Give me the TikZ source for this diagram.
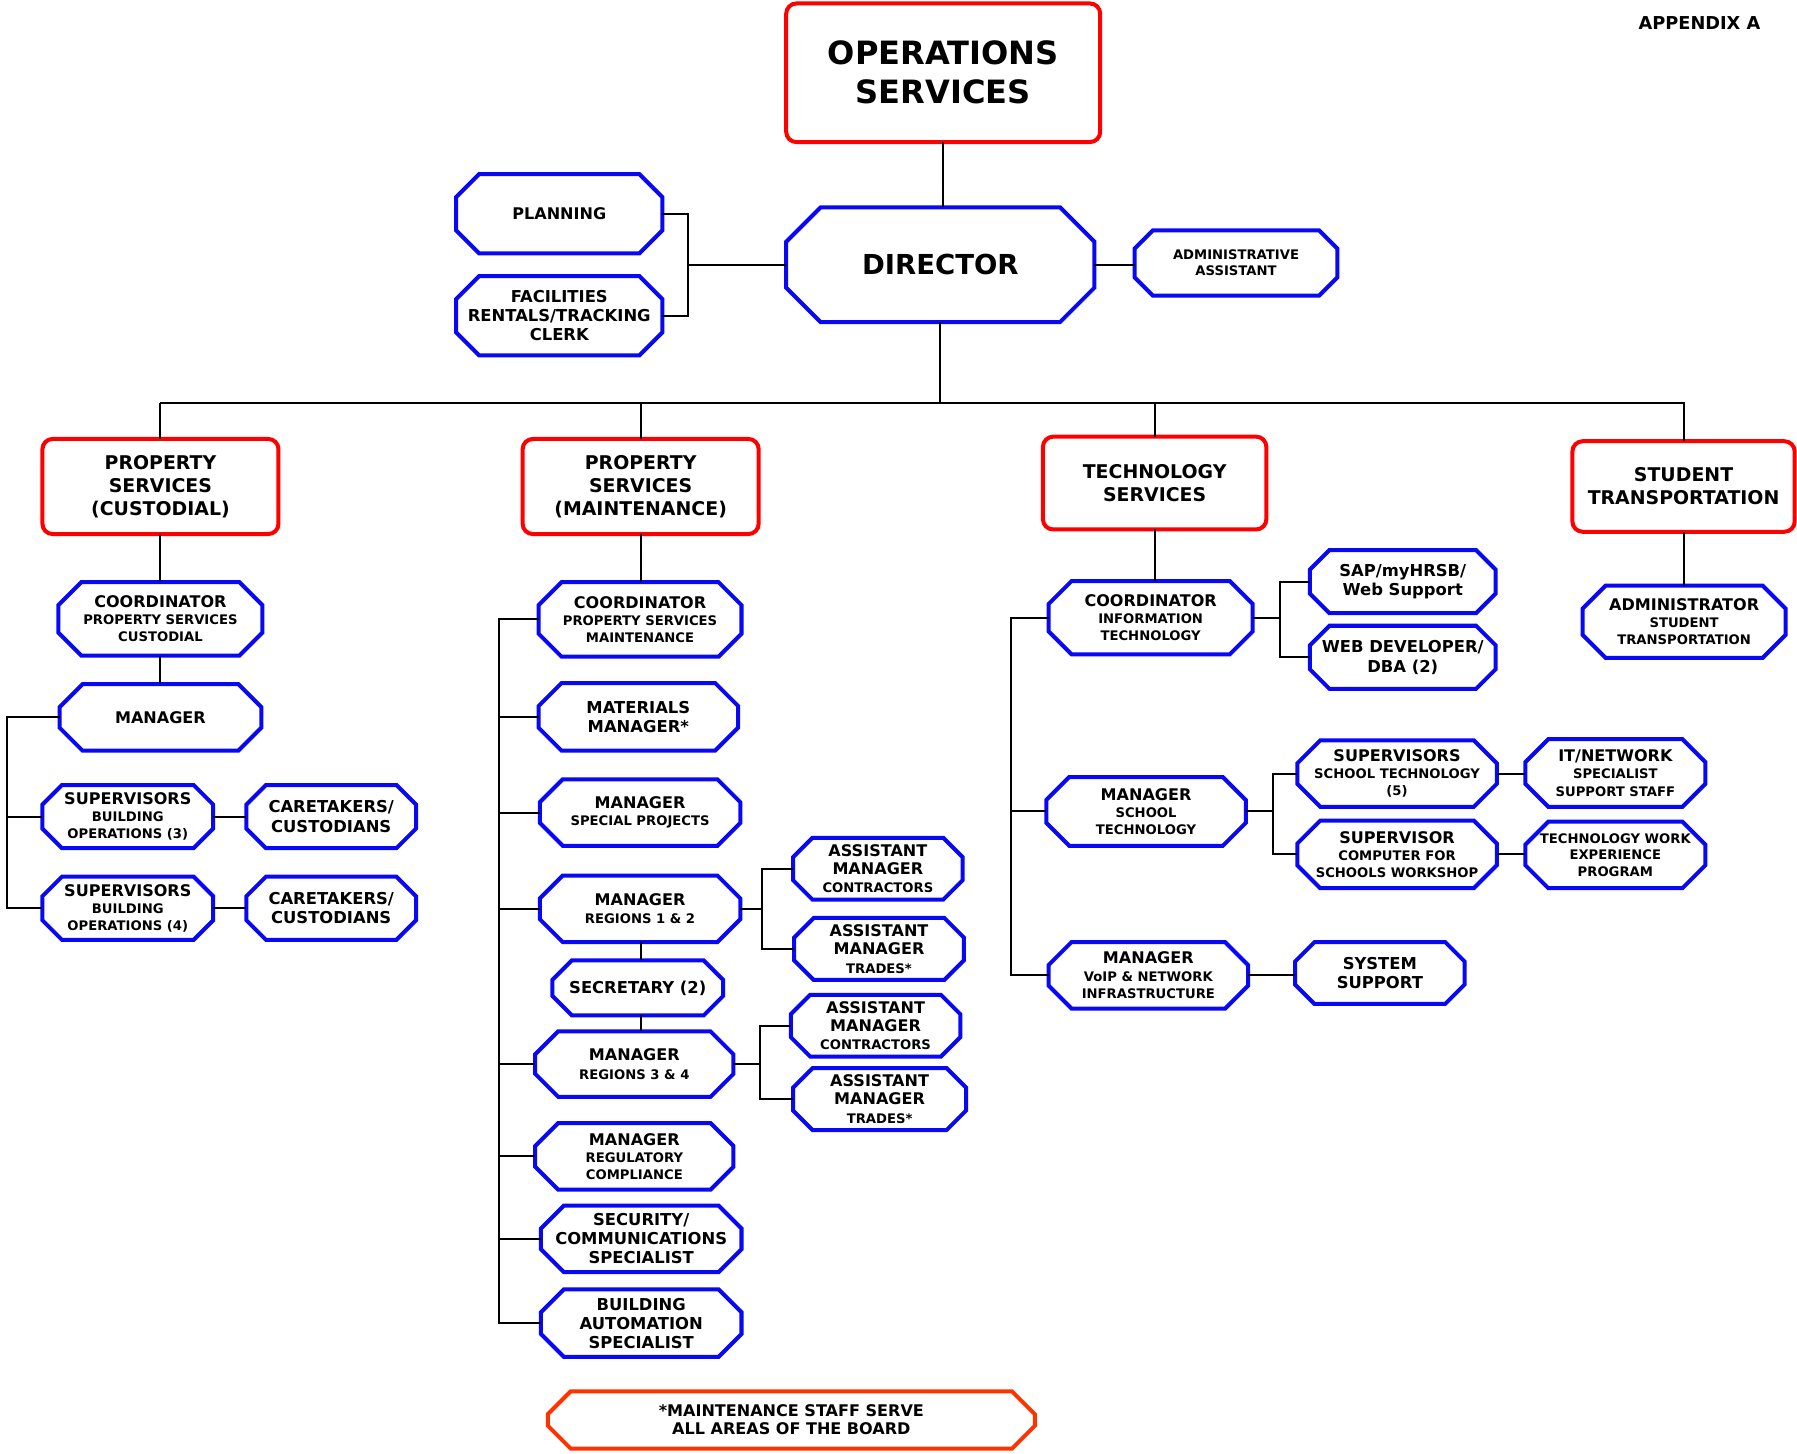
\documentclass[tikz,border=0pt]{standalone}
\usepackage{fontspec}
\setmainfont{DejaVu Sans}
\definecolor{bxblue}{RGB}{8,8,245}
\definecolor{bxred}{RGB}{255,0,0}
\definecolor{fnred}{RGB}{255,51,0}
\newcommand\Fa{\fontsize{14}{15.5}\selectfont}
\newcommand\Fb{\fontsize{11.5}{15.5}\selectfont}
\newcommand\Fc{\fontsize{14.3}{17}\selectfont}
\newcommand\Fd{\fontsize{14}{16}\selectfont}
\newcommand\Fe{\fontsize{11.5}{16}\selectfont}
\newcommand\Fr{\fontsize{16.5}{20}\selectfont}
\newcommand\octcolor{bxblue}
\tikzset{
  txt/.style={inner sep=0pt, outer sep=0pt, align=center, font=\bfseries\fontsize{10}{15.5}\selectfont},
  ls/.style={font=\bfseries\fontsize{10}{#1}\selectfont},
  octo/.style={line width=3.5pt, line join=miter},
  redbox/.style={txt, draw=bxred, line width=3.5pt, rounded corners=9pt},
  conn/.style={draw=black, line width=1.8pt},
}
% #1 node options, #2 name, #3 cx, #4 cy, #5 w, #6 h, #7 chamfer, #8 text
\newcommand\ob[8][]{%
  \node[txt, #1, minimum width=#5pt, minimum height=#6pt] (#2) at (#3,#4) {#8};
  \draw[octo, draw=\octcolor] ([xshift=#7pt]#2.north west) -- ([xshift=-#7pt]#2.north east)
    -- ([yshift=-#7pt]#2.north east) -- ([yshift=#7pt]#2.south east)
    -- ([xshift=-#7pt]#2.south east) -- ([xshift=#7pt]#2.south west)
    -- ([yshift=#7pt]#2.south west) -- ([yshift=-#7pt]#2.north west) -- cycle;
}
% #1 node options, #2 name, #3 cx, #4 cy, #5 w, #6 h, #7 text
\newcommand\rb[7][]{%
  \node[redbox, ls=20, #1, minimum width=#5pt, minimum height=#6pt] (#2) at (#3,#4) {#7};
}
\begin{document}
\begin{tikzpicture}[x=1pt,y=-1pt]
\useasboundingbox (0,0) rectangle (1568,1268);
\fill[white] (0,0) rectangle (1568,1268);

\node[txt, anchor=east, font=\bfseries\fontsize{15.5}{17}\selectfont] (app) at (1536,20) {APPENDIX A};

% top
\rb[ls=34]{ops}{823}{63.5}{274}{121}{\fontsize{28}{34}\selectfont OPERATIONS\\\fontsize{28}{34}\selectfont SERVICES}
\ob{dir}{820.5}{231}{269}{100}{30}{\fontsize{24}{28}\selectfont DIRECTOR}
\ob{plan}{488}{186.5}{180}{69}{20}{\Fa PLANNING}
\ob[ls=16.5]{fac}{488}{275.5}{180}{69}{20}{\Fc FACILITIES\\\Fc RENTALS/TRACKING\\\Fc CLERK}
\ob[ls=14]{adm}{1078.5}{229.5}{177}{57}{16}{\fontsize{11.5}{14}\selectfont ADMINISTRATIVE\\\fontsize{11.5}{14}\selectfont ASSISTANT}

\coordinate (jd) at (600,231);
\draw[conn] (ops.south) -- (ops.south |- dir.north);
\draw[conn] (plan.east) -| (jd) |- (fac.east);
\draw[conn] (jd) -- (dir.west);
\draw[conn] (dir.east) -- (dir.east -| adm.west);

% departments
\rb{psc}{140}{424.5}{206}{83}{\Fr PROPERTY\\\Fr SERVICES\\\Fr (CUSTODIAL)}
\rb{psm}{559}{424.5}{206}{83}{\Fr PROPERTY\\\Fr SERVICES\\\Fr (MAINTENANCE)}
\rb{ts}{1007.5}{421.5}{195}{81}{\Fr TECHNOLOGY\\\Fr SERVICES}
\rb{st}{1469}{424.5}{194}{79}{\Fr STUDENT\\\Fr TRANSPORTATION}

\coordinate (busl) at (140,352);
\coordinate (busr) at (1470,352);
\draw[conn] (dir.south) -- (dir.south |- busl);
\draw[conn] (busl) -- (busr);
\draw[conn] (psc.north |- busl) -- (psc.north);
\draw[conn] (psm.north |- busl) -- (psm.north);
\draw[conn] (ts.north |- busl) -- (ts.north);
\draw[conn] (st.north |- busl) -- (st.north);

% column 1
\ob[ls=15]{cpc}{140}{540}{178}{64}{20}{\Fa COORDINATOR\\\Fb PROPERTY SERVICES\\\Fb CUSTODIAL}
\ob{mg1}{140}{626}{176}{58}{20}{\Fa MANAGER}
\ob[ls=15]{sup3}{111.5}{712.5}{149}{55}{17}{\Fa SUPERVISORS\\\Fb BUILDING\\\Fb OPERATIONS (3)}
\ob[ls=17]{ct1}{289}{712.5}{148}{55}{17}{\Fc CARETAKERS/\\\Fc CUSTODIANS}
\ob[ls=15]{sup4}{111.5}{792.5}{149}{55}{17}{\Fa SUPERVISORS\\\Fb BUILDING\\\Fb OPERATIONS (4)}
\ob[ls=17]{ct2}{289}{792.5}{148}{55}{17}{\Fc CARETAKERS/\\\Fc CUSTODIANS}

\coordinate (b1) at (6,626);
\draw[conn] (psc.south) -- (cpc.north);
\draw[conn] (cpc.south) -- (mg1.north);
\draw[conn] (mg1.west) -- (b1) |- (sup4.west);
\draw[conn] (sup3.west) -- (sup3.west -| b1);
\draw[conn] (sup3.east) -- (ct1.west);
\draw[conn] (sup4.east) -- (ct2.west);

% column 2
\ob[ls=15]{cpm}{558.5}{540.5}{177}{65}{20}{\Fa COORDINATOR\\\Fb PROPERTY SERVICES\\\Fb MAINTENANCE}
\ob[ls=17]{mat}{557}{625.5}{174}{59}{20}{\Fc MATERIALS\\\Fc MANAGER*}
\ob[ls=15]{msp}{558.5}{709}{175}{58}{20}{\Fa MANAGER\\\Fb SPECIAL PROJECTS}
\ob[ls=16]{mr12}{558.5}{793}{175}{58}{20}{\Fa MANAGER\\\Fb REGIONS 1 \& 2}
\ob{sec}{556.5}{862}{149}{48}{17}{\Fc SECRETARY (2)}
\ob[ls=16]{mr34}{553.5}{928.5}{173}{57}{20}{\Fa MANAGER\\\Fb REGIONS 3 \& 4}
\ob[ls=15]{mrc}{553.5}{1009}{173}{58}{20}{\Fa MANAGER\\\Fb REGULATORY\\\Fb COMPLIANCE}
\ob[ls=16.5]{scs}{559.5}{1081}{175}{58}{20}{\Fc SECURITY/\\\Fc COMMUNICATIONS\\\Fc SPECIALIST}
\ob[ls=16.5]{bas}{559.5}{1154.5}{175}{59}{20}{\Fc BUILDING\\\Fc AUTOMATION\\\Fc SPECIALIST}

\ob[ls=16]{amc1}{766}{758}{148}{54}{17}{\Fd ASSISTANT\\\Fd MANAGER\\\Fe CONTRACTORS}
\ob[ls=16]{amt1}{767}{828}{148}{54}{17}{\Fd ASSISTANT\\\Fd MANAGER\\\Fe TRADES*}
\ob[ls=16]{amc2}{764}{895}{148}{54}{17}{\Fd ASSISTANT\\\Fd MANAGER\\\Fe CONTRACTORS}
\ob[ls=16]{amt2}{767.5}{959}{151}{54}{17}{\Fd ASSISTANT\\\Fd MANAGER\\\Fe TRADES*}

\coordinate (b2) at (435,540.5);
\draw[conn] (psm.south) -- (psm.south |- cpm.north);
\draw[conn] (cpm.west) -- (b2) |- (bas.west);
\draw[conn] (mat.west) -- (mat.west -| b2);
\draw[conn] (msp.west) -- (msp.west -| b2);
\draw[conn] (mr12.west) -- (mr12.west -| b2);
\draw[conn] (mr34.west) -- (mr34.west -| b2);
\draw[conn] (mrc.west) -- (mrc.west -| b2);
\draw[conn] (scs.west) -- (scs.west -| b2);
\draw[conn] (psm.south |- mr12.south) -- (psm.south |- sec.north);
\draw[conn] (psm.south |- sec.south) -- (psm.south |- mr34.north);

\coordinate (b3) at (665,793);
\coordinate (b4) at (663,928.5);
\draw[conn] (mr12.east) -- (b3);
\draw[conn] (amc1.west) -| (b3) |- (amt1.west);
\draw[conn] (mr34.east) -- (b4);
\draw[conn] (amc2.west) -| (b4) |- (amt2.west);

% column 3
\ob[ls=15]{cit}{1004}{539}{178}{64}{20}{\Fa COORDINATOR\\\Fb INFORMATION\\\Fb TECHNOLOGY}
\ob[ls=15]{mst}{1000}{708}{174}{60}{20}{\Fa MANAGER\\\Fb SCHOOL\\\Fb TECHNOLOGY}
\ob[ls=15]{mvo}{1002}{851}{174}{58}{20}{\Fa MANAGER\\\Fb VoIP \& NETWORK\\\Fb INFRASTRUCTURE}
\ob[ls=17]{sap}{1224}{507.5}{162}{55}{17}{\Fc SAP/myHRSB/\\\Fc Web Support}
\ob[ls=17]{web}{1224}{573.5}{162}{55}{17}{\Fc WEB DEVELOPER/\\\Fc DBA (2)}
\ob[ls=15]{sst}{1219}{675}{174}{58}{20}{\Fa SUPERVISORS\\\Fb SCHOOL TECHNOLOGY\\\Fb (5)}
\ob[ls=15]{scw}{1219}{745.5}{174}{59}{20}{\Fa SUPERVISOR\\\Fb COMPUTER FOR\\\Fb SCHOOLS WORKSHOP}
\ob[ls=15]{itn}{1409.5}{674.5}{157}{59}{20}{\Fa IT/NETWORK\\\Fb SPECIALIST\\\Fb SUPPORT STAFF}
\ob[ls=14.5]{twe}{1409.5}{746}{157}{58}{20}{\Fb TECHNOLOGY WORK\\\Fb EXPERIENCE\\\Fb PROGRAM}
\ob[ls=17]{sys}{1204}{849}{148}{54}{17}{\Fc SYSTEM\\\Fc SUPPORT}

\coordinate (b5) at (882,539);
\coordinate (b6) at (1117,539);
\coordinate (b7) at (1111,708);
\draw[conn] (ts.south) -- (ts.south |- cit.north);
\draw[conn] (cit.west) -- (b5) |- (mvo.west);
\draw[conn] (mst.west) -- (mst.west -| b5);
\draw[conn] (cit.east) -- (b6);
\draw[conn] (sap.west) -| (b6) |- (web.west);
\draw[conn] (mst.east) -- (b7);
\draw[conn] (sst.west) -| (b7) |- (scw.west);
\draw[conn] (sst.east) -- (sst.east -| itn.west);
\draw[conn] (scw.east) -- (scw.east -| twe.west);
\draw[conn] (mvo.east) -- (mvo.east -| sys.west);

% column 4
\ob[ls=15]{ads}{1469.5}{542.5}{177}{63}{20}{\Fa ADMINISTRATOR\\\Fb STUDENT\\\Fb TRANSPORTATION}
\draw[conn] (st.south) -- (st.south |- ads.north);

% footnote
\renewcommand\octcolor{fnred}
\ob[ls=16]{fn}{690.5}{1239}{425}{50}{20}{\Fd *MAINTENANCE STAFF SERVE\\\Fd ALL AREAS OF THE BOARD}
\end{tikzpicture}
\end{document}
